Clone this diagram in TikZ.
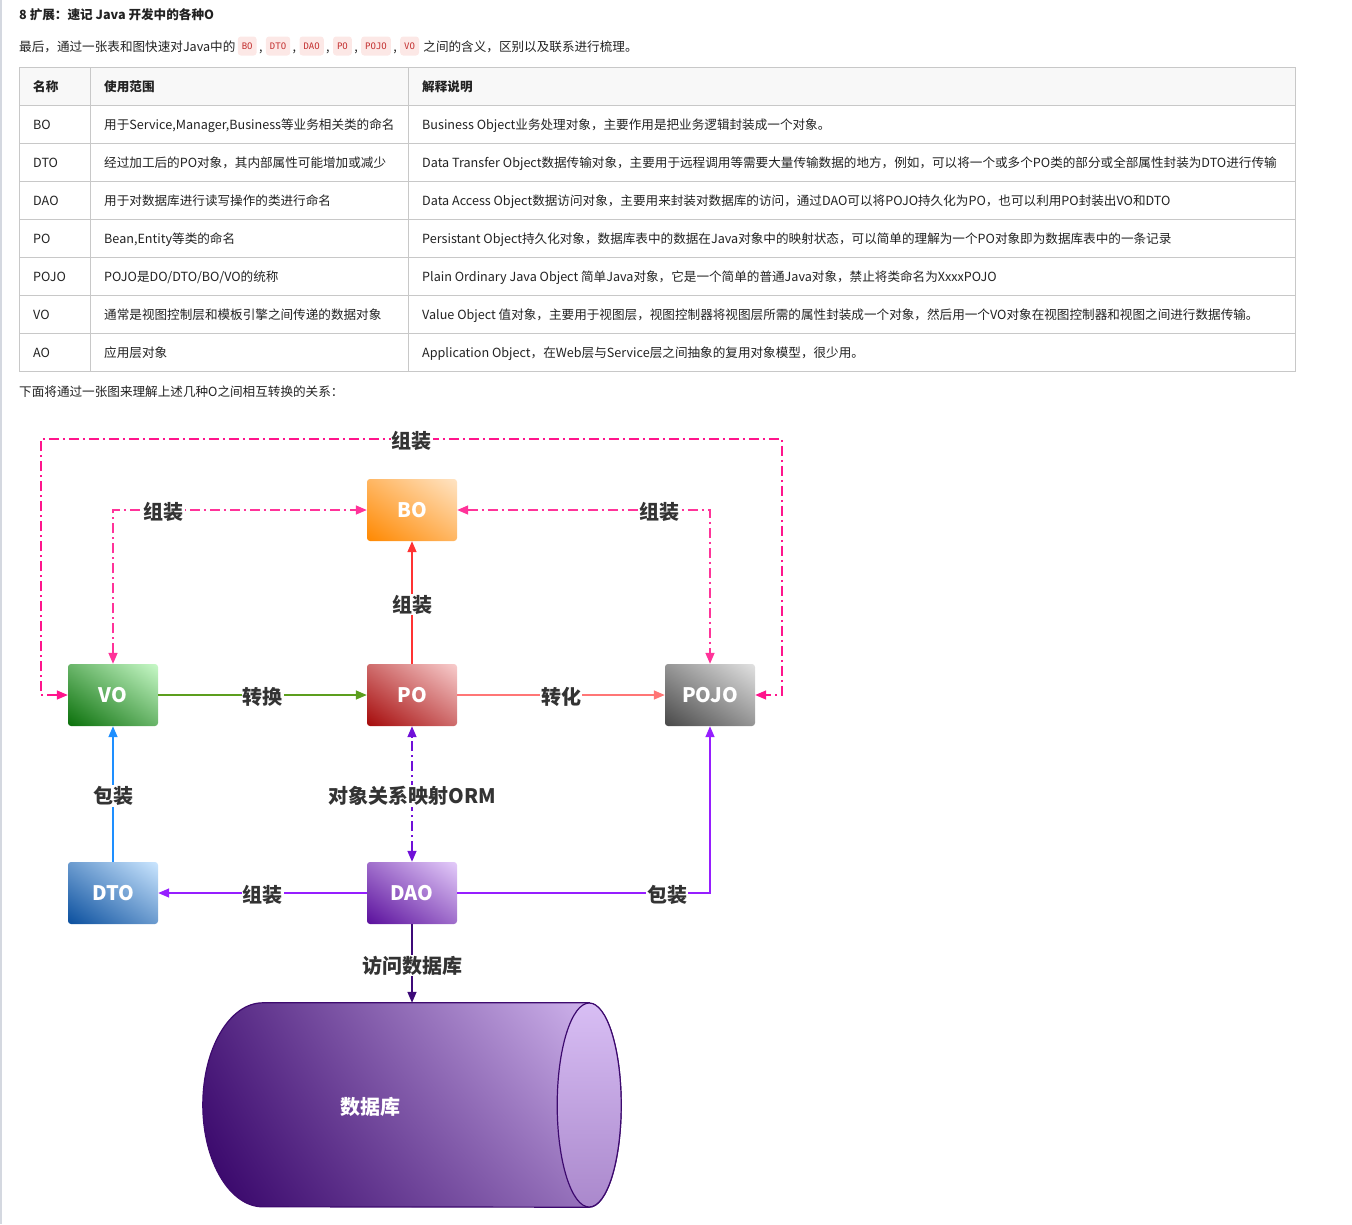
\documentclass[tikz,border=0pt]{standalone}
\usepackage{fontspec}
\setmainfont{Noto Sans CJK SC}
\setmonofont{DejaVu Sans Mono}
\usetikzlibrary{arrows.meta, positioning, shadings}

\definecolor{ink}{RGB}{34,34,34}
\definecolor{tagink}{RGB}{51,51,51}
\definecolor{gridline}{RGB}{200,200,200}
\definecolor{headfill}{RGB}{248,248,248}
\definecolor{pagerule}{RGB}{212,216,224}
\definecolor{chipbg}{RGB}{252,232,230}
\definecolor{chipfg}{RGB}{196,50,50}
\definecolor{boDark}{RGB}{255,136,0}
\definecolor{boLight}{RGB}{255,228,196}
\definecolor{voDark}{RGB}{10,112,10}
\definecolor{voLight}{RGB}{200,249,200}
\definecolor{poDark}{RGB}{165,10,10}
\definecolor{poLight}{RGB}{248,205,205}
\definecolor{pojoDark}{RGB}{72,72,72}
\definecolor{pojoLight}{RGB}{226,226,226}
\definecolor{dtoDark}{RGB}{10,79,158}
\definecolor{dtoLight}{RGB}{203,230,255}
\definecolor{daoDark}{RGB}{90,15,156}
\definecolor{daoLight}{RGB}{228,204,250}
\definecolor{dbDark}{RGB}{51,0,102}
\definecolor{dbLight}{RGB}{217,191,245}
\definecolor{capLight}{RGB}{216,190,244}
\definecolor{capDark}{RGB}{170,136,204}
\definecolor{dbEdge}{RGB}{61,10,110}
\definecolor{pinkOuter}{RGB}{255,20,140}
\definecolor{pinkInner}{RGB}{255,51,153}
\definecolor{redline}{RGB}{255,51,51}
\definecolor{greenline}{RGB}{92,158,30}
\definecolor{salmonline}{RGB}{255,118,118}
\definecolor{blueline}{RGB}{30,143,255}
\definecolor{ormline}{RGB}{112,16,216}
\definecolor{violetline}{RGB}{150,30,255}
\definecolor{dbline}{RGB}{61,10,120}

\tikzset{
  cell/.style={
    anchor=west, inner sep=0pt, text=ink,
    text height=12pt, text depth=1pt,
    font=\fontsize{12.6}{15}\selectfont
  },
  headcell/.style={cell, font=\fontsize{12.6}{15}\selectfont\bfseries},
  chip/.style={
    fill=chipbg, text=chipfg, rounded corners=3pt,
    inner xsep=4pt, minimum height=19pt,
    font=\ttfamily\fontsize{9}{9}\selectfont
  },
  grid/.style={draw=gridline, line width=1pt}
}
\tikzset{
  objbox/.style={
    rectangle, rounded corners=3pt,
    minimum width=90pt, minimum height=62pt, inner sep=0pt,
    text=white, font=\fontsize{20}{20}\selectfont\bfseries
  },
  shadeto/.style 2 args={
    shade, lower left=#1, upper right=#2,
    upper left=#1!50!#2, lower right=#1!50!#2
  },
  tag/.style={
    fill=white, inner sep=1pt, text=tagink, yshift=-2pt,
    font=\fontsize{20}{20}\selectfont\bfseries
  },
  link/.style={-{Triangle[length=11pt, width=9pt]}, line width=1.5pt},
  twoway/.style={{Triangle[length=11pt, width=9pt]}-{Triangle[length=11pt, width=9pt]}, line width=1.5pt},
  dashdot/.style={dash pattern=on 10pt off 4pt on 2pt off 4pt}
}

\begin{document}
\begin{tikzpicture}[x=1pt, y=1pt]
  \useasboundingbox (0,0) rectangle (1352,-1224);
  \draw[pagerule, line width=1.5pt] (1,0) -- (1,-1224);

  % heading and intro line
  \node[headcell] (title) at (19,-14) {8 扩展：速记 Java 开发中的各种O};
  \node[cell] (intro) at (19,-46) {最后，通过一张表和图快速对Java中的};
  \node[chip, right=2pt of intro] (cbo) {BO};
  \node[cell, right=2pt of cbo] (k1) {,};
  \node[chip, right=3pt of k1] (cdto) {DTO};
  \node[cell, right=2pt of cdto] (k2) {,};
  \node[chip, right=3pt of k2] (cdao) {DAO};
  \node[cell, right=2pt of cdao] (k3) {,};
  \node[chip, right=3pt of k3] (cpo) {PO};
  \node[cell, right=2pt of cpo] (k4) {,};
  \node[chip, right=3pt of k4] (cpojo) {POJO};
  \node[cell, right=2pt of cpojo] (k5) {,};
  \node[chip, right=3pt of k5] (cvo) {VO};
  \node[cell, right=4pt of cvo] (outro) {之间的含义，区别以及联系进行梳理。};

  % table
  \fill[headfill] (19,-67) rectangle (1295,-105);
  \foreach \y in {105,143,...,333}
    \draw[grid] (19,-\y) -- (1295,-\y);
  \foreach \x in {90,408}
    \draw[grid] (\x,-67) -- (\x,-371);
  \draw[grid] (19,-67) rectangle (1295,-371);

  \node[headcell] (hname) at (33,-86) {名称};
  \node[headcell] (huse) at (104,-86) {使用范围};
  \node[headcell] (hdesc) at (422,-86) {解释说明};

  \foreach \nm/\use/\desc [count=\r] in {
    BO/{用于Service,Manager,Business等业务相关类的命名}/{Business Object业务处理对象，主要作用是把业务逻辑封装成一个对象。},
    DTO/{经过加工后的PO对象，其内部属性可能增加或减少}/{Data Transfer Object数据传输对象，主要用于远程调用等需要大量传输数据的地方，例如，可以将一个或多个PO类的部分或全部属性封装为DTO进行传输},
    DAO/{用于对数据库进行读写操作的类进行命名}/{Data Access Object数据访问对象，主要用来封装对数据库的访问，通过DAO可以将POJO持久化为PO，也可以利用PO封装出VO和DTO},
    PO/{Bean,Entity等类的命名}/{Persistant Object持久化对象，数据库表中的数据在Java对象中的映射状态，可以简单的理解为一个PO对象即为数据库表中的一条记录},
    POJO/{POJO是DO/DTO/BO/VO的统称}/{Plain Ordinary Java Object 简单Java对象，它是一个简单的普通Java对象，禁止将类命名为XxxxPOJO},
    VO/{通常是视图控制层和模板引擎之间传递的数据对象}/{Value Object 值对象，主要用于视图层，视图控制器将视图层所需的属性封装成一个对象，然后用一个VO对象在视图控制器和视图之间进行数据传输。},
    AO/{应用层对象}/{Application Object，在Web层与Service层之间抽象的复用对象模型，很少用。}
  }{
    \node[cell] (name\r) at (33,-86-38*\r) {\nm};
    \node[cell] (use\r) at (104,-86-38*\r) {\use};
    \node[cell] (desc\r) at (422,-86-38*\r) {\desc};
  }

  \node[cell] (lead) at (19,-391) {下面将通过一张图来理解上述几种O之间相互转换的关系：};

  % object boxes
  \begin{scope}[on grid]
    \node[objbox, shadeto={poDark}{poLight}] (po) at (412,-695) {PO};
    \node[objbox, shadeto={boDark}{boLight}, above=185pt of po] (bo) {BO};
    \node[objbox, shadeto={voDark}{voLight}, left=299pt of po] (vo) {VO};
    \node[objbox, shadeto={pojoDark}{pojoLight}, right=298pt of po] (pojo) {POJO};
    \node[objbox, shadeto={daoDark}{daoLight}, below=198pt of po] (dao) {DAO};
    \node[objbox, shadeto={dtoDark}{dtoLight}, left=299pt of dao] (dto) {DTO};
    \node[minimum width=418pt, minimum height=204pt, inner sep=0pt,
          below=212pt of dao] (db) {};
  \end{scope}

  % database cylinder
  \shadedraw[lower left=dbDark, upper right=dbLight,
             upper left=dbDark!82!dbLight, lower right=dbDark!35!dbLight,
             draw=dbEdge, line width=1.2pt]
    ([xshift=-32pt]db.north east) -- ([xshift=60pt]db.north west)
    arc[start angle=90, end angle=270, x radius=60pt, y radius=102pt]
    -- ([xshift=-32pt]db.south east)
    arc[start angle=-90, end angle=90, x radius=32pt, y radius=102pt] -- cycle;
  \shadedraw[top color=capLight, bottom color=capDark, draw=dbEdge, line width=1.2pt]
    ([xshift=-32pt]db.east) ellipse [x radius=32pt, y radius=102pt];
  \node[text=white, font=\fontsize{20}{20}\selectfont\bfseries] (dbtext)
    at ([xshift=-42pt, yshift=-2pt]db.center) {数据库};

  \coordinate (loopL) at (41,-439);
  \coordinate (loopR) at (782,-439);

  % VO <-> POJO, outer loop
  \draw[twoway, dashdot, draw=pinkOuter] (vo.west) -| (loopL)
    -- node[tag]{组装} (loopR) |- (pojo.east);

  % VO <-> BO
  \draw[twoway, dashdot, draw=pinkInner] (vo.north) |- node[tag, pos=0.6]{组装} (bo.west);

  % BO <-> POJO
  \draw[twoway, dashdot, draw=pinkInner] (bo.east) -| node[tag, pos=0.4]{组装} (pojo.north);

  % PO -> BO
  \draw[link, draw=redline] (po) -- node[tag]{组装} (bo);

  % VO -> PO
  \draw[link, draw=greenline] (vo) -- node[tag]{转换} (po);

  % PO -> POJO
  \draw[link, draw=salmonline] (po) -- node[tag]{转化} (pojo);

  % DTO -> VO
  \draw[link, draw=blueline] (dto) -- node[tag]{包装} (vo);

  % DAO <-> PO
  \draw[twoway, dashdot, draw=ormline] (dao) -- node[tag]{对象关系映射ORM} (po);

  % DAO -> DTO
  \draw[link, draw=violetline] (dao) -- node[tag]{组装} (dto);

  % DAO -> POJO
  \draw[link, draw=violetline] (dao.east) -| node[tag, pos=0.415]{包装} (pojo.south);

  % DAO -> database
  \draw[link, draw=dbline] (dao) -- node[tag]{访问数据库} (db);
\end{tikzpicture}
\end{document}
